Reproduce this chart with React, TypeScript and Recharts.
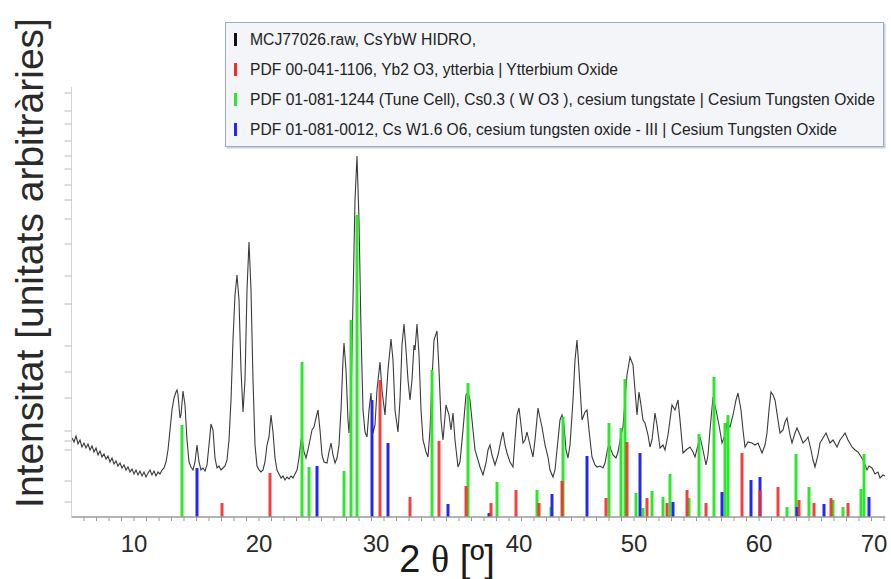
import React from 'react';
import { ComposedChart, Line, XAxis, YAxis, ReferenceLine, Legend, Label } from 'recharts';

// Measured scan: [2θ (º), intensity (arb. units)]
const measuredScan: [number, number][] = [
  [5.04,79],[5.2,75],[5.36,81],[5.52,73],[5.68,77],[5.84,70],[6.0,74],[6.16,69],[6.32,73],[6.48,67],
  [6.64,71],[6.8,65],[6.96,69],[7.12,62],[7.28,66],[7.44,60],[7.6,63],[7.76,58],[7.92,61],[8.08,55],
  [8.24,59],[8.4,53],[8.56,56],[8.72,51],[8.88,54],[9.04,49],[9.2,52],[9.36,47],[9.52,50],[9.68,45],
  [9.84,48],[10.0,43],[10.16,47],[10.32,42],[10.48,46],[10.64,41],[10.8,45],[10.96,40],[11.12,44],[11.28,47],
  [11.44,42],[11.6,46],[11.76,41],[11.92,45],[12.08,43],[12.24,47],[12.4,49],[12.56,55],[12.72,67],[12.88,87],
  [13.04,107],[13.2,119],[13.36,125],[13.44,127],[13.52,122],[13.68,99],[13.76,102],[13.92,126],[14.08,112],[14.24,77],
  [14.4,55],[14.56,50],[14.72,47],[14.88,55],[15.04,72],[15.2,55],[15.36,47],[15.52,49],[15.68,46],[15.84,52],
  [16.0,72],[16.16,93],[16.32,87],[16.48,59],[16.64,49],[16.8,51],[16.96,47],[17.12,49],[17.28,51],[17.44,57],
  [17.6,77],[17.76,117],[17.92,177],[18.08,222],[18.24,242],[18.4,217],[18.56,147],[18.72,105],[18.88,137],[19.04,227],
  [19.2,275],[19.36,227],[19.52,137],[19.68,72],[19.84,51],[20.0,47],[20.16,45],[20.32,47],[20.48,55],[20.64,72],
  [20.8,80],[20.96,102],[21.12,85],[21.28,59],[21.44,47],[21.6,43],[21.76,39],[21.92,41],[22.08,37],[22.24,40],
  [22.4,38],[22.56,41],[22.72,39],[22.88,43],[23.04,47],[23.2,59],[23.36,77],[23.44,80],[23.6,65],[23.76,59],
  [23.92,67],[24.08,77],[24.24,87],[24.4,90],[24.56,99],[24.72,107],[24.88,87],[25.04,62],[25.2,55],[25.44,54],
  [25.6,65],[25.76,74],[25.92,62],[26.08,54],[26.24,59],[26.4,72],[26.56,107],[26.72,157],[26.8,174],[26.96,147],
  [27.12,97],[27.2,84],[27.36,117],[27.52,217],[27.68,317],[27.84,361],[28.0,297],[28.16,187],[28.32,107],[28.48,85],
  [28.64,80],[28.8,107],[28.96,124],[29.12,84],[29.28,92],[29.44,127],[29.68,155],[29.84,127],[30.08,102],[30.32,147],
  [30.56,178],[30.72,157],[30.88,107],[31.12,85],[31.28,117],[31.44,172],[31.6,193],[31.76,167],[31.92,137],[32.08,117],
  [32.24,137],[32.4,172],[32.48,167],[32.64,193],[32.8,162],[32.96,107],[33.12,77],[33.36,65],[33.52,60],[33.68,87],
  [33.84,137],[34.0,177],[34.24,186],[34.4,147],[34.56,97],[34.72,77],[34.96,112],[35.2,102],[35.36,87],[35.52,104],
  [35.68,77],[35.92,50],[36.08,55],[36.32,87],[36.56,122],[36.72,125],[36.88,117],[37.12,87],[37.28,67],[37.52,57],
  [37.68,50],[37.92,42],[38.16,54],[38.32,67],[38.48,72],[38.64,62],[38.88,52],[39.12,62],[39.36,77],[39.52,85],
  [39.68,72],[39.84,64],[40.08,55],[40.32,50],[40.48,77],[40.64,102],[40.8,109],[40.96,92],[41.12,74],[41.28,77],
  [41.44,85],[41.68,72],[41.92,60],[42.08,77],[42.32,109],[42.48,99],[42.64,90],[42.88,72],[43.12,60],[43.28,47],
  [43.52,40],[43.68,47],[43.92,77],[44.08,97],[44.24,102],[44.4,92],[44.56,67],[44.72,59],[44.88,72],[45.12,117],
  [45.28,157],[45.44,177],[45.6,147],[45.84,97],[46.08,105],[46.24,107],[46.4,87],[46.64,60],[46.88,52],[47.04,50],
  [47.28,51],[47.52,49],[47.68,54],[47.84,65],[48.0,74],[48.16,67],[48.32,62],[48.56,59],[48.72,65],[48.96,82],
  [49.12,90],[49.28,117],[49.44,142],[49.68,160],[49.92,152],[50.08,127],[50.24,102],[50.4,125],[50.56,112],[50.72,97],
  [50.88,94],[51.12,82],[51.28,70],[51.44,77],[51.68,104],[51.84,92],[52.08,69],[52.32,72],[52.48,67],[52.72,82],
  [52.88,97],[53.04,112],[53.28,107],[53.52,117],[53.68,97],[53.92,64],[54.16,67],[54.48,70],[54.72,65],[54.88,60],
  [55.12,72],[55.28,80],[55.52,67],[55.76,52],[55.92,62],[56.08,87],[56.32,120],[56.56,107],[56.8,92],[57.04,74],
  [57.28,82],[57.44,94],[57.68,90],[57.92,102],[58.16,117],[58.32,124],[58.56,107],[58.72,87],[58.88,70],[59.12,75],
  [59.44,74],[59.68,72],[59.92,74],[60.08,69],[60.24,64],[60.48,72],[60.64,84],[60.8,107],[60.96,125],[61.12,122],
  [61.28,117],[61.52,97],[61.68,84],[61.92,87],[62.08,95],[62.24,99],[62.48,82],[62.64,74],[62.88,84],[63.04,89],
  [63.28,82],[63.52,74],[63.76,77],[63.92,80],[64.16,67],[64.32,57],[64.48,50],[64.72,62],[64.88,74],[65.12,79],
  [65.36,84],[65.52,79],[65.68,74],[65.92,77],[66.24,70],[66.48,77],[66.72,81],[66.88,84],[67.12,77],[67.44,70],
  [67.68,67],[67.92,65],[68.08,62],[68.32,57],[68.48,52],[68.64,47],[68.8,51],[69.04,49],[69.28,43],[69.52,45],
  [69.68,39],[69.92,42],[70.08,41],
];

// Reference patterns: positions (2θ) and relative intensities
const yb2o3Pos = [17.04,20.88,29.68,32.08,34.4,36.56,38.56,40.56,42.4,44.24,47.76,49.44,51.04,52.64,54.24,55.76,58.64,60.08,61.52,63.2,64.4,65.76,67.12];
const yb2o3Int = [14,44,137,20,76,31,14,27,14,36,19,75,19,14,27,14,64,27,30,17,14,19,14];

const cs03wo3Pos = [13.84,23.44,24.0,26.8,27.36,27.84,33.84,36.72,39.04,42.24,43.36,44.32,48.0,48.96,49.28,50.16,50.72,51.44,52.32,52.88,54.4,55.2,56.4,57.28,57.52,62.24,62.96,64.0,65.92,66.72,68.16,68.4];
const cs03wo3Int = [92,155,50,46,197,302,147,134,35,27,10,100,94,89,138,24,9,26,20,43,19,83,140,94,102,10,63,30,17,10,28,63];

const csw16o6Pos = [15.04,24.64,29.04,30.32,35.12,38.4,43.44,46.24,50.48,53.12,57.04,59.36,60.08,63.04,65.2,68.8];
const csw16o6Int = [49,51,117,74,13,4,23,61,64,15,25,37,40,10,13,20];

const xTicks = Array.from({ length: 65 }, (_, i) => i + 6);
const yTicks = [15, 36, 67, 76, 86, 119, 145, 171, 213, 241, 273, 298, 317, 332, 348, 361, 376, 393, 406, 424];

const legendLabels = [
  'MCJ77026.raw, CsYbW HIDRO,',
  'PDF 00-041-1106, Yb2 O3, ytterbia | Ytterbium Oxide',
  'PDF 01-081-1244 (Tune Cell), Cs0.3 ( W O3 ), cesium tungstate | Cesium Tungsten Oxide',
  'PDF 01-081-0012, Cs W1.6 O6, cesium tungsten oxide - III | Cesium Tungsten Oxide',
];

const COLORS = { scan: '#3a3a3a', red: '#f52a2a', green: '#2ee62e', blue: '#2626f2' };
const legendColors = ['#111111', COLORS.red, COLORS.green, COLORS.blue];
const legendTextWidths = [226, 368, 625, 587];
const FONT = '"Liberation Sans", Arial, sans-serif';
const labelShift: Record<number, number> = { 30: -8, 40: 10, 70: -10 };

const chartData = measuredScan.map(([t, v]) => ({ t, v }));

const XTick = (props: any) => {
  const { x, y, payload } = props;
  const v = payload.value as number;
  if (v % 10 !== 0) return <g />;
  return (
    <text x={x + (labelShift[v] || 0)} y={y} dy="0.71em" textAnchor="middle" fontSize={24} fontFamily={FONT} fill="#2a2a2a">
      {v}
    </text>
  );
};

const LegendBox = () => (
  <svg width={661} height={127} style={{ display: 'block', overflow: 'visible' }}>
    <rect x={1.5} y={1.5} width={659} height={125} fill="#c9d1de" />
    <rect x={0.5} y={0.5} width={658} height={124} fill="#f3f5f9" stroke="#9dadc6" />
    {legendLabels.map((s, i) => (
      <g key={i}>
        <rect x={9} y={11 + i * 30} width={3} height={13} fill={legendColors[i]} />
        <g transform={`translate(25, ${23 + i * 30}) scale(1, 1.2)`}>
          <text
            x={0}
            y={0}
            fontSize={14.5}
            fontFamily={FONT}
            fill="#222"
            textLength={legendTextWidths[i]}
            lengthAdjust="spacingAndGlyphs"
          >
            {s}
          </text>
        </g>
      </g>
    ))}
  </svg>
);

const YTitle = () => (
  <text
    x={43}
    y={263}
    transform="rotate(-90, 43, 263)"
    textAnchor="middle"
    fontSize={39}
    fontFamily={FONT}
    fill="#2a2a2a"
  >
    Intensitat [unitats arbitràries]
  </text>
);

const XTitle = () => (
  <text x={447} y={572} textAnchor="middle" fontSize={38} fontFamily={FONT} fill="#1a1a1a">
    <tspan>2 </tspan>
    <tspan fontFamily={'"Liberation Serif", "Times New Roman", serif'}>θ</tspan>
    <tspan> [º]</tspan>
  </text>
);

export default function App() {
  return (
    <div style={{ position: 'absolute', left: 0, top: 0, width: 891, height: 579, background: '#fff' }}>
      <ComposedChart
        width={891}
        height={579}
        data={chartData}
        margin={{ top: 87, right: 5.75, bottom: 0, left: 63.5 }}
      >
        <XAxis
          dataKey="t"
          type="number"
          domain={[5, 70.1]}
          ticks={xTicks}
          interval={0}
          allowDataOverflow
          height={62}
          tickSize={4}
          tickMargin={14}
          tick={<XTick />}
          axisLine={{ stroke: '#9a9a9a', strokeWidth: 1.5 }}
          tickLine={{ stroke: '#9a9a9a' }}
        >
          <Label content={<XTitle />} />
        </XAxis>
        <YAxis
          type="number"
          domain={[0, 430]}
          ticks={yTicks}
          interval={0}
          allowDataOverflow
          width={8}
          tickSize={7}
          tickFormatter={() => ''}
          axisLine={{ stroke: '#d4d4d4' }}
          tickLine={{ stroke: '#b8b8b8' }}
        >
          <Label content={<YTitle />} />
        </YAxis>
        <Legend
          layout="vertical"
          align="center"
          verticalAlign="middle"
          content={<LegendBox />}
          wrapperStyle={{ position: 'absolute', left: 225, top: 22, width: 661, height: 127, margin: 0 }}
        />
        <Line
          dataKey="v"
          type="linear"
          stroke={COLORS.scan}
          strokeWidth={1.1}
          dot={false}
          activeDot={false}
          isAnimationActive={false}
          legendType="none"
        />
        {cs03wo3Pos.map((p, i) => (
          <ReferenceLine key={'g' + i} segment={[{ x: p, y: 0 }, { x: p, y: cs03wo3Int[i] }]} stroke={COLORS.green} strokeWidth={3} ifOverflow="visible" />
        ))}
        {csw16o6Pos.map((p, i) => (
          <ReferenceLine key={'b' + i} segment={[{ x: p, y: 0 }, { x: p, y: csw16o6Int[i] }]} stroke={COLORS.blue} strokeWidth={3} ifOverflow="visible" />
        ))}
        {yb2o3Pos.map((p, i) => (
          <ReferenceLine key={'r' + i} segment={[{ x: p, y: 0 }, { x: p, y: yb2o3Int[i] }]} stroke={COLORS.red} strokeWidth={3} strokeOpacity={0.9} ifOverflow="visible" />
        ))}
      </ComposedChart>
    </div>
  );
}
